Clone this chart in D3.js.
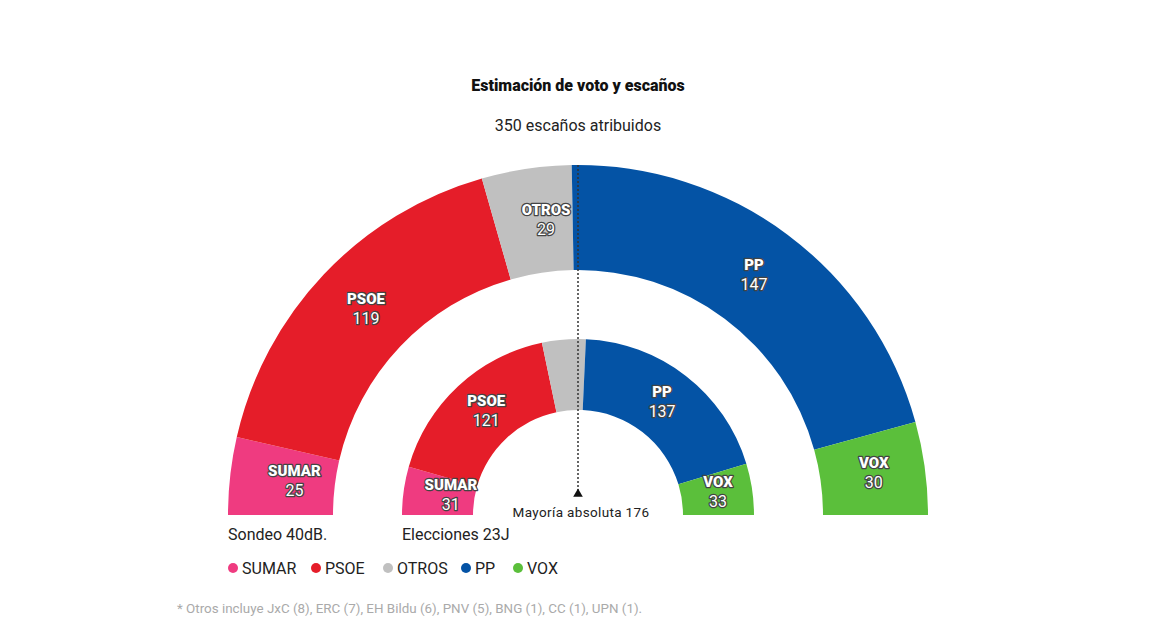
<!DOCTYPE html>
<html>
<head>
<meta charset="utf-8">
<script src="https://cdn.jsdelivr.net/npm/d3@7"></script>
<style>
  html, body { margin: 0; padding: 0; background: #fff; }
  svg { display: block; font-family: Roboto, "Liberation Sans", sans-serif; }
</style>
</head>
<body>
<svg id="chart" width="1159" height="640"></svg>
<script>
const parties = ["SUMAR", "PSOE", "OTROS", "PP", "VOX"];
const colors = ["#ef3b80", "#e51d29", "#c0c0c0", "#0453a5", "#5bbf3b"];
const sondeoSeats = [25, 119, 29, 147, 30];
const eleccionesSeats = [31, 121, 28, 137, 33];
const showInnerLabel = [true, true, false, true, true];
const totalSeats = 350;
const majority = 176;
const title = "Estimación de voto y escaños";
const subtitle = "350 escaños atribuidos";
const footnote = "* Otros incluye JxC (8), ERC (7), EH Bildu (6), PNV (5), BNG (1), CC (1), UPN (1).";

const svg = d3.select("#chart");
const cx = 578, cy = 515;

const color = d3.scaleOrdinal().domain(parties).range(colors);

svg.append("text").attr("x", cx).attr("y", 91).attr("text-anchor", "middle")
  .attr("font-size", 16).attr("font-weight", 900).attr("fill", "#111").text(title);
svg.append("text").attr("x", cx).attr("y", 131).attr("text-anchor", "middle")
  .attr("font-size", 16).attr("fill", "#222").text(subtitle);

const pie = d3.pie().sort(null).startAngle(-Math.PI / 2).endAngle(Math.PI / 2);

function drawRing(values, r0, r1, labelFlags, nudges) {
  const arc = d3.arc().innerRadius(r0).outerRadius(r1);
  const data = pie(values).map((a, i) => Object.assign(a, { party: parties[i], idx: i }));
  const g = svg.append("g").attr("transform", `translate(${cx},${cy})`);
  g.selectAll("path").data(data).join("path")
    .attr("d", arc).attr("fill", d => color(d.party));
  const lg = g.selectAll("g.lbl").data(data.filter(d => labelFlags[d.idx])).join("g")
    .attr("class", "lbl")
    .attr("transform", d => {
      const c = arc.centroid(d);
      const n = nudges[d.idx];
      return `translate(${c[0] + n[0]},${c[1] + n[1]})`;
    });
  lg.append("text").attr("y", -5).attr("text-anchor", "middle")
    .attr("font-size", 15).attr("font-weight", 900).attr("fill", "#fff")
    .attr("stroke", "#444").attr("stroke-width", 2.5).attr("stroke-linejoin", "round")
    .attr("paint-order", "stroke").text(d => d.party);
  lg.append("text").attr("y", 15).attr("text-anchor", "middle")
    .attr("font-size", 16).attr("fill", "#fff")
    .attr("stroke", "#444").attr("stroke-width", 2.5).attr("stroke-linejoin", "round")
    .attr("paint-order", "stroke").text(d => d.value);
}

drawRing(sondeoSeats, 245, 350, [true, true, true, true, true],
  [[12, -1], [4, -1], [12, -1], [-2, -2], [1, -2]]);
drawRing(eleccionesSeats, 105, 176, showInnerLabel,
  [[12, -1], [4, -1], [0, 0], [-2, -2], [1, -2]]);

// majority line
svg.append("line").attr("x1", cx).attr("x2", cx).attr("y1", cy - 350).attr("y2", 490)
  .attr("stroke", "#333").attr("stroke-width", 1.5).attr("stroke-dasharray", "2,2");
svg.append("path").attr("d", d3.symbol(d3.symbolTriangle, 40)())
  .attr("transform", `translate(${cx},494)`).attr("fill", "#111");
svg.append("text").attr("x", cx + 3).attr("y", 517).attr("text-anchor", "middle")
  .attr("font-size", 13.5).attr("fill", "#222").attr("letter-spacing", 0.35)
  .text("Mayoría absoluta " + majority);

svg.append("text").attr("x", 228).attr("y", 540).attr("font-size", 16).attr("fill", "#222").text("Sondeo 40dB.");
svg.append("text").attr("x", 402).attr("y", 540).attr("font-size", 16).attr("fill", "#222").text("Elecciones 23J");

// legend
const legendX = [233, 316, 388, 466, 518];
const lg = svg.append("g");
parties.forEach((p, i) => {
  lg.append("circle").attr("cx", legendX[i]).attr("cy", 568).attr("r", 5).attr("fill", color(p));
  lg.append("text").attr("x", legendX[i] + 9).attr("y", 574).attr("font-size", 16).attr("fill", "#222").text(p);
});

svg.append("text").attr("x", 177).attr("y", 613).attr("font-size", 13.4).attr("fill", "#aaa").text(footnote);
</script>
</body>
</html>
